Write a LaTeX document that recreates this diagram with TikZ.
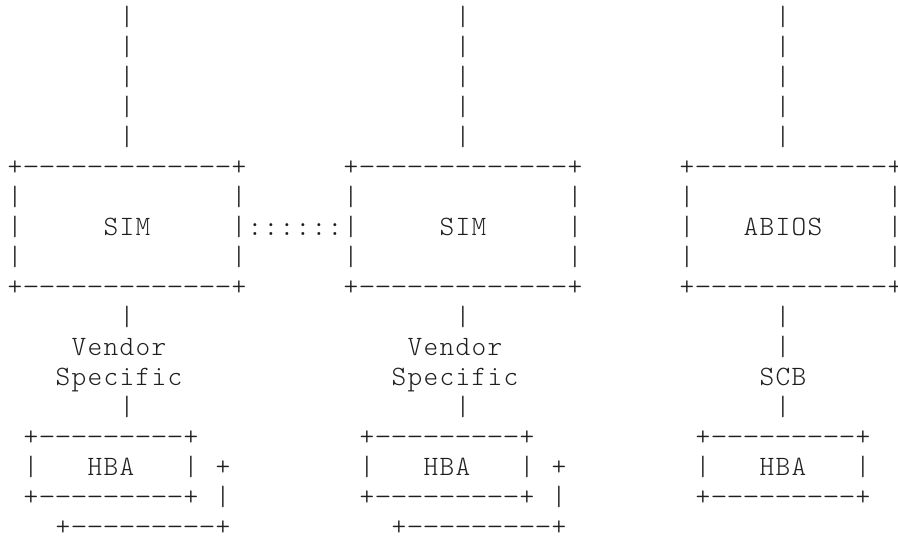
\documentclass[tikz,border=0pt]{standalone}
\usepackage{graphicx}
\font\asciifont="[lmmonolt10-regular.otf]" at 21pt
\definecolor{ink}{RGB}{30,30,30}
\makeatletter
\def\asc@dash{-}
\newcommand\asciistr[1]{\@tfor\asc@c:=#1\do{\makebox[12pt][c]{\ifx\asc@c\asc@dash\scalebox{1.15}[1]{-}\else\asc@c\fi}}}
\makeatother
\tikzset{
  txt/.style={anchor=base west, inner sep=0pt, outer sep=0pt,
    font=\asciifont, text=ink}
}
% #1 column, #2 row, #3 name, #4 text
\newcommand\ch[4]{\node[txt] (#3) at ({7+16*#1},{-(25.5+30*#2)}) {\asciistr{#4}};}
\begin{document}
\begin{tikzpicture}[x=0.75pt,y=0.75pt]
\fill[white] (0,0) rectangle (898,-539);
\useasboundingbox (0,0) rectangle (898,-539);
% top vertical lines
\foreach \r in {0,...,4}{
  \ch{7}{\r}{a\r}{|}
  \ch{28}{\r}{b\r}{|}
  \ch{48}{\r}{c\r}{|}
}
% upper boxes
\ch{0}{5}{simAtop}{+-------------+}
\ch{21}{5}{simBtop}{+-------------+}
\ch{42}{5}{abiostop}{+------------+}
\foreach \r in {6,8}{
  \ch{0}{\r}{sAl\r}{|}
  \ch{14}{\r}{sAr\r}{|}
  \ch{21}{\r}{sBl\r}{|}
  \ch{35}{\r}{sBr\r}{|}
  \ch{42}{\r}{abl\r}{|}
  \ch{55}{\r}{abr\r}{|}
}
\ch{0}{7}{sAl7}{|}
\ch{6}{7}{simA}{SIM}
\ch{14}{7}{link}{|::::::|}
\ch{27}{7}{simB}{SIM}
\ch{35}{7}{sBr7}{|}
\ch{42}{7}{abl7}{|}
\ch{46}{7}{abios}{ABIOS}
\ch{55}{7}{abr7}{|}
\ch{0}{9}{simAbot}{+-------------+}
\ch{21}{9}{simBbot}{+-------------+}
\ch{42}{9}{abiosbot}{+------------+}
% middle labels
\ch{7}{10}{a10}{|}
\ch{28}{10}{b10}{|}
\ch{48}{10}{c10}{|}
\ch{4}{11}{vA}{Vendor}
\ch{25}{11}{vB}{Vendor}
\ch{48}{11}{c11}{|}
\ch{3}{12}{spA}{Specific}
\ch{24}{12}{spB}{Specific}
\ch{47}{12}{scb}{SCB}
\ch{7}{13}{a13}{|}
\ch{28}{13}{b13}{|}
\ch{48}{13}{c13}{|}
% HBA boxes
\ch{1}{14}{hAtop}{+---------+}
\ch{22}{14}{hBtop}{+---------+}
\ch{43}{14}{hCtop}{+---------+}
\ch{1}{15}{hAl}{|}
\ch{5}{15}{hbaA}{HBA}
\ch{11}{15}{hAr}{|}
\ch{13}{15}{hAx}{+}
\ch{22}{15}{hBl}{|}
\ch{26}{15}{hbaB}{HBA}
\ch{32}{15}{hBr}{|}
\ch{34}{15}{hBx}{+}
\ch{43}{15}{hCl}{|}
\ch{47}{15}{hbaC}{HBA}
\ch{53}{15}{hCr}{|}
\ch{1}{16}{hAbot}{+---------+}
\ch{13}{16}{hAy}{|}
\ch{22}{16}{hBbot}{+---------+}
\ch{34}{16}{hBy}{|}
\ch{43}{16}{hCbot}{+---------+}
\ch{3}{17}{hAback}{+---------+}
\ch{24}{17}{hBback}{+---------+}
\end{tikzpicture}
\end{document}
